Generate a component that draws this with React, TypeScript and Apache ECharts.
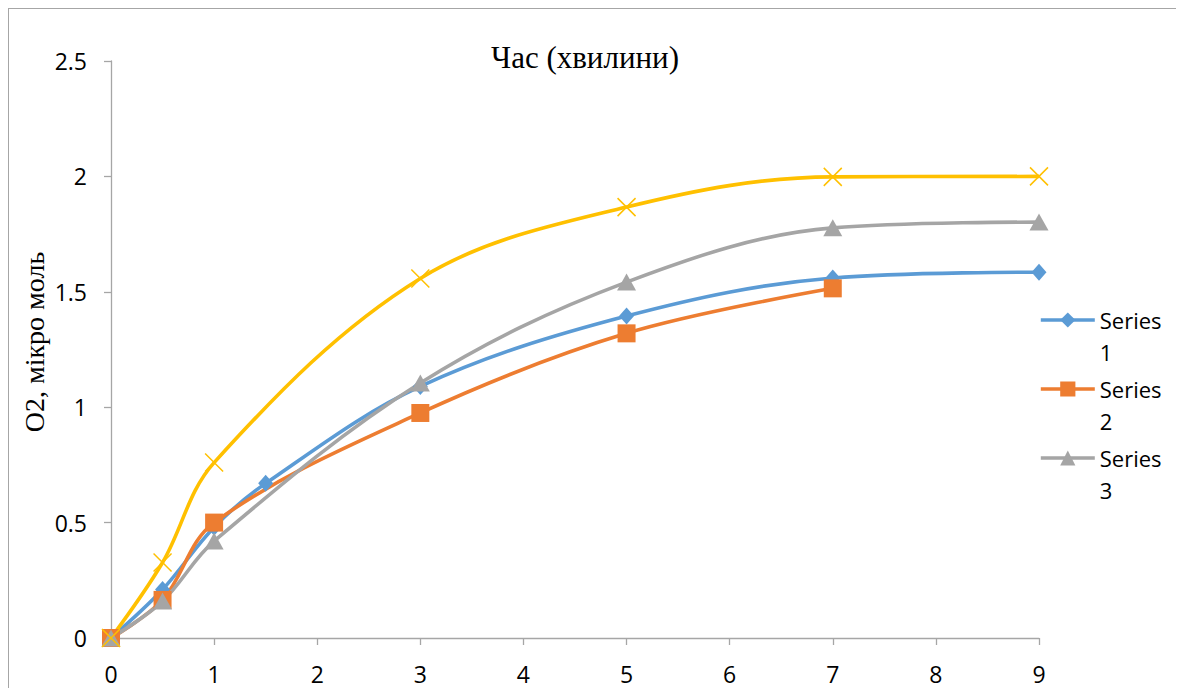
import React, { useEffect, useRef } from "react";
import * as echarts from "echarts";

const xSeries1 = [0, 0.5, 1, 1.5, 3, 5, 7, 9];
const series1 = [0, 0.21, 0.48, 0.67, 1.09, 1.395, 1.56, 1.585];
const xSeries2 = [0, 0.5, 1, 3, 5, 7];
const series2 = [0, 0.165, 0.5, 0.975, 1.32, 1.515];
const xSeries3 = [0, 0.5, 1, 3, 5, 7, 9];
const series3 = [0, 0.16, 0.42, 1.105, 1.542, 1.777, 1.802];
const xSeries4 = [0, 0.5, 1, 3, 5, 7, 9];
const series4 = [0, 0.327, 0.76, 1.558, 1.867, 1.998, 2.0];
const seriesNames = ["Series 1", "Series 2", "Series 3", "Series 4"];
const titleText = "Час (хвилини)";
const yAxisName = "O2, мікро моль";

const pair = (xs: number[], ys: number[]) => xs.map((x, i) => [x, ys[i]]);

const SANS = "'Open Sans', 'Noto Sans', sans-serif";
const SERIF = "'Liberation Serif', 'DejaVu Serif', serif";

export default function App() {
  const ref = useRef<HTMLDivElement>(null);
  useEffect(() => {
    if (!ref.current) return;
    const chart = echarts.init(ref.current, undefined, { renderer: "svg" });
    const legendItem = (name: string, top: number) => ({
      data: [name],
      orient: "vertical",
      left: 1030,
      top,
      itemWidth: 54,
      itemHeight: 19,
      itemGap: 0,
      padding: 0,
      lineStyle: { width: 3.6 },
      formatter: (n: string) => " \n" + n.replace(" ", "\n"),
      textStyle: {
        fontFamily: SANS,
        fontSize: 22,
        color: "#000",
        lineHeight: 32,
      },
    });
    const base = (color: string) => ({
      type: "line",
      smooth: 0.35,
      clip: false,
      lineStyle: { color, width: 3.6 },
      itemStyle: { color },
    });
    chart.setOption({
      animation: false,
      grid: { left: 102, right: 144, top: 52, bottom: 50, containLabel: false },
      xAxis: {
        type: "value",
        min: 0,
        max: 9,
        interval: 1,
        axisLine: { show: true, lineStyle: { color: "#a6a6a6", width: 1.3 } },
        axisTick: { show: true, length: 7, inside: false, lineStyle: { color: "#a6a6a6", width: 1.3 } },
        splitLine: { show: false },
        axisLabel: { fontFamily: SANS, fontSize: 23, color: "#000", margin: 24 },
      },
      yAxis: {
        type: "value",
        min: 0,
        max: 2.5,
        interval: 0.5,
        axisLine: { show: true, lineStyle: { color: "#a6a6a6", width: 1.3 } },
        axisTick: { show: true, length: 7, inside: false, lineStyle: { color: "#a6a6a6", width: 1.3 } },
        splitLine: { show: false },
        axisLabel: { fontFamily: SANS, fontSize: 23, color: "#000", margin: 24 },
      },
      legend: [
        legendItem(seriesNames[0], 263),
        legendItem(seriesNames[1], 332),
        legendItem(seriesNames[2], 401),
      ],
      graphic: [
        {
          type: "text",
          x: 576,
          y: 48,
          style: {
            text: titleText,
            fontFamily: SERIF,
            fontSize: 31,
            fill: "#000",
            align: "center",
            verticalAlign: "middle",
          },
        },
        {
          type: "text",
          x: 25,
          y: 333,
          rotation: Math.PI / 2,
          style: {
            text: yAxisName,
            fontFamily: SERIF,
            fontSize: 28,
            fill: "#000",
            align: "center",
            verticalAlign: "middle",
          },
        },
      ],
      series: [
        {
          ...base("#5B9BD5"),
          name: seriesNames[0],
          data: pair(xSeries1, series1),
          symbol: "diamond",
          symbolSize: [15, 17],
        },
        {
          ...base("#ED7D31"),
          name: seriesNames[1],
          data: pair(xSeries2, series2),
          symbol: "rect",
          symbolSize: 18,
        },
        {
          ...base("#A5A5A5"),
          name: seriesNames[2],
          data: pair(xSeries3, series3),
          symbol: "triangle",
          symbolSize: [19, 17],
        },
        {
          ...base("#FFC000"),
          name: seriesNames[3],
          data: pair(xSeries4, series4),
          symbol: "path://M0,0L10,10M10,0L0,10",
          symbolSize: 18,
          itemStyle: { color: "#FFC000", borderColor: "#FFC000", borderWidth: 1.5 },
        },
      ],
    });
    return () => chart.dispose();
  }, []);
  return (
    <div
      style={{
        width: 1176,
        height: 680,
        boxSizing: "border-box",
        borderTop: "1px solid #a6a6a6",
        borderLeft: "1px solid #a6a6a6",
        borderRight: "1px solid #a6a6a6",
        overflow: "hidden",
      }}
    >
      <div ref={ref} style={{ width: 1174, height: 679 }} />
    </div>
  );
}
